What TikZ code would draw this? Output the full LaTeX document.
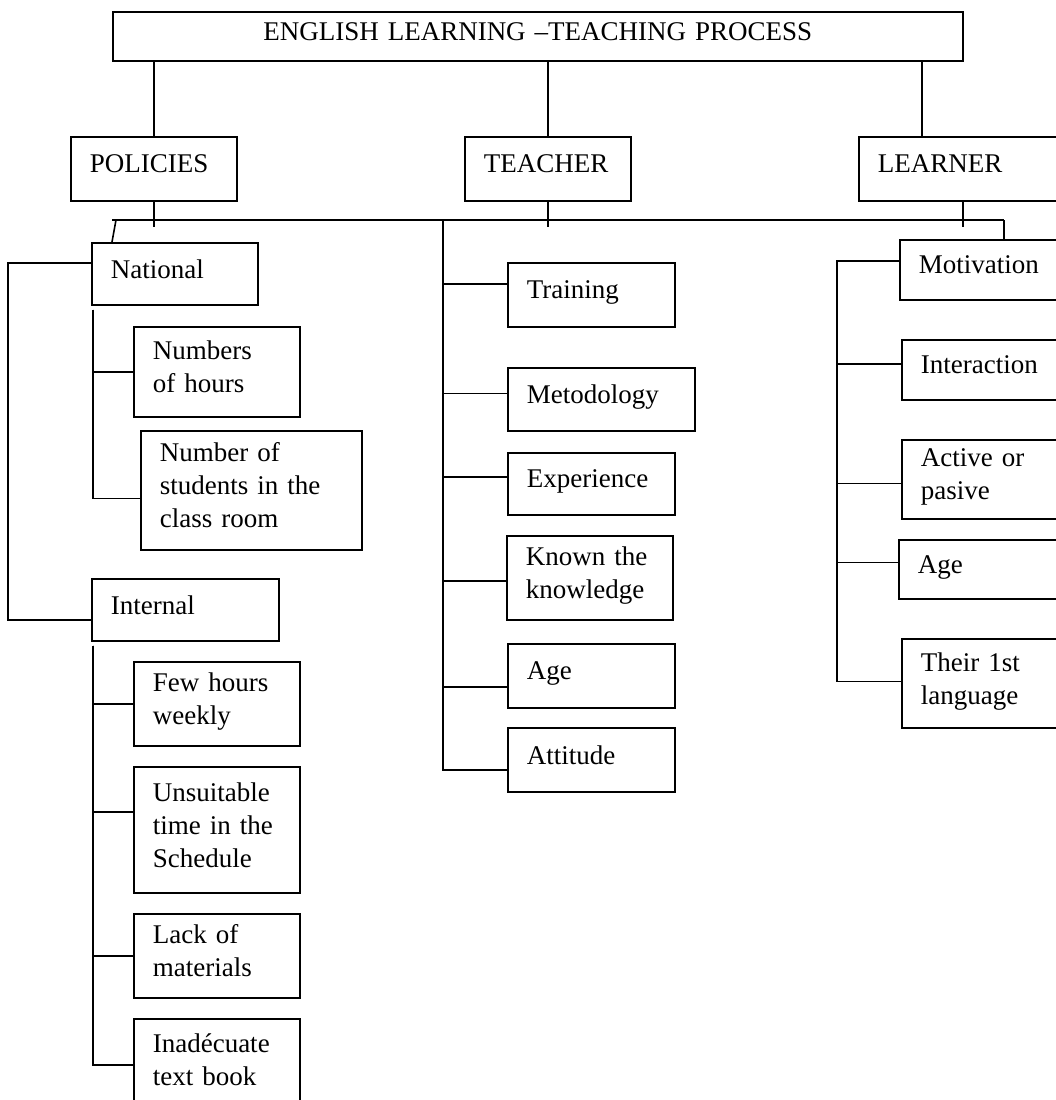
\documentclass[tikz,border=0pt]{standalone}
\usepackage{fontspec}
\setmainfont{Liberation Serif}
\begin{document}
\begin{tikzpicture}[x=1pt,y=-1pt,line width=1.6pt]
\tikzstyle{every node}+=[font=\fontsize{27}{33}\selectfont]
\tikzstyle{box}=[draw, anchor=north west, align=left, inner xsep=19pt, inner ysep=2pt, execute at end node={\rule[-10pt]{0pt}{10pt}}]
\useasboundingbox (0,0) rectangle (1056,1100);
\clip (0,0) rectangle (1056,1100);
\node [box, align=center, text width=812pt, minimum height=49pt, execute at end node={}] (process) at (112,11) {ENGLISH LEARNING –TEACHING PROCESS};
\node [box, text width=128pt, minimum height=64pt] (policies) at (70,136) {POLICIES};
\node [box, text width=128pt, minimum height=64pt] (teacher) at (464,136) {TEACHER};
\node [box, text width=182pt, minimum height=64pt] (learner) at (858,136) {LEARNER};
\node [box, text width=128pt, minimum height=62pt] (national) at (91,242) {National};
\node [box, text width=128pt, minimum height=90pt] (hours) at (133,326) {Numbers\\of hours};
\node [box, text width=183pt, minimum height=119pt] (students) at (140,430) {Number of\\students in the\\class room};
\node [box, text width=149pt, minimum height=62pt] (internal) at (91,578) {Internal};
\node [box, text width=128pt, minimum height=84pt] (weekly) at (133,661) {Few hours\\weekly};
\node [box, text width=128pt, minimum height=126pt] (schedule) at (133,766) {Unsuitable\\time in the\\Schedule};
\node [box, text width=128pt, minimum height=84pt] (materials) at (133,913) {Lack of\\materials};
\node [box, text width=128pt, minimum height=92pt] (textbook) at (133,1018) {Inadécuate\\text book};
\node [box, text width=129pt, minimum height=64pt] (training) at (507,262) {Training};
\node [box, text width=149pt, minimum height=63pt] (method) at (507,367) {Metodology};
\node [box, text width=129pt, minimum height=62pt] (experience) at (507,452) {Experience};
\node [box, text width=128pt, minimum height=84pt] (knowledge) at (506,535) {Known the\\knowledge};
\node [box, text width=129pt, minimum height=64pt] (tage) at (507,643) {Age};
\node [box, text width=129pt, minimum height=64pt] (attitude) at (507,727) {Attitude};
\node [box, text width=142pt, minimum height=60pt] (motivation) at (899,239) {Motivation};
\node [box, text width=142pt, minimum height=60pt] (interaction) at (901,339) {Interaction};
\node [box, text width=142pt, minimum height=79pt] (active) at (901,439) {Active or\\pasive};
\node [box, text width=142pt, minimum height=59pt] (lage) at (898,539) {Age};
\node [box, text width=142pt, minimum height=89pt] (language) at (901,638) {Their 1st\\language};
\coordinate (lrtop) at ([xshift=64pt]learner.north west);
\coordinate (lrbot) at ([xshift=105pt]learner.south west);
\draw (process.south -| policies.north) -- (policies.north);
\draw (process.south -| teacher.north) -- (teacher.north);
\draw (process.south -| lrtop) -- (lrtop);
\coordinate (busl) at (112,220);
\coordinate (busr) at (1004,220);
\draw (busl) -- (busr);
\draw (policies.south) -- ++(0,25);
\draw (teacher.south) -- ++(0,25);
\draw (lrbot) -- ++(0,25);
\draw ([xshift=4pt]busl) -- ([xshift=21pt]national.north west);
\draw (busr) -- (busr |- motivation.north);
\draw ([yshift=11pt]national.west) -- ++(-83,0) |- ([yshift=-10pt]internal.west);
\coordinate (natdown) at ([xshift=2pt,yshift=-4pt]national.south west);
\draw (natdown) |- (hours.west);
\draw (natdown) |- ([yshift=-8pt]students.west);
\coordinate (intdown) at ([xshift=2pt,yshift=-4pt]internal.south west);
\draw (intdown) |- (weekly.west);
\draw (intdown) |- ([yshift=18pt]schedule.west);
\draw (intdown) |- (materials.west);
\draw (intdown) |- (textbook.west);
\coordinate (tjoin) at (443,220);
\draw (tjoin) |- ([yshift=11pt]training.west);
\draw (tjoin) |- ([yshift=6pt]method.west);
\draw (tjoin) |- ([yshift=7pt]experience.west);
\draw (tjoin) |- ([yshift=-3pt]knowledge.west);
\draw (tjoin) |- ([yshift=-11pt]tage.west);
\draw (tjoin) |- ([yshift=-10pt]attitude.west);
\coordinate (ljoin) at ([xshift=-62pt,yshift=9pt]motivation.west);
\draw ([yshift=9pt]motivation.west) -- (ljoin) |- ([yshift=2pt]language.west);
\draw (ljoin) |- ([yshift=6pt]interaction.west);
\draw (ljoin) |- ([yshift=-4pt]active.west);
\draw (ljoin) |- ([yshift=7pt]lage.west);
\end{tikzpicture}
\end{document}
